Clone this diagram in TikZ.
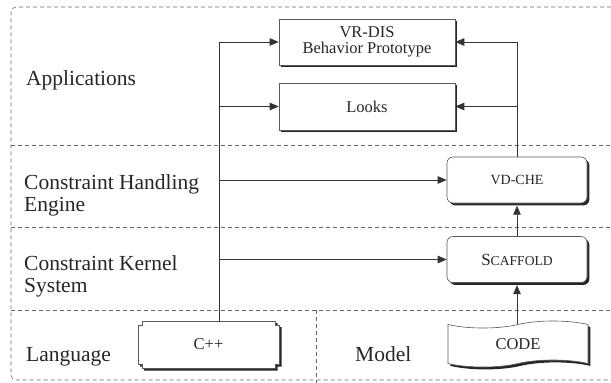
\documentclass[tikz,border=0pt]{standalone}
\usepackage{fontspec}
\setmainfont{Liberation Serif}
\usetikzlibrary{arrows.meta,shadows,shapes.symbols,calc}

% Outline of a box whose four corners carry a small square notch;
% #1 = node name, #2/#3 = extra shift of the whole outline
\newcommand\notchpath[3]{%
  ([xshift=#2+4pt,yshift=#3]#1.north west) --
  ([xshift=#2-4pt,yshift=#3]#1.north east) --
  ([xshift=#2-4pt,yshift=#3-4pt]#1.north east) --
  ([xshift=#2,yshift=#3-4pt]#1.north east) --
  ([xshift=#2,yshift=#3+4pt]#1.south east) --
  ([xshift=#2-4pt,yshift=#3+4pt]#1.south east) --
  ([xshift=#2-4pt,yshift=#3]#1.south east) --
  ([xshift=#2+4pt,yshift=#3]#1.south west) --
  ([xshift=#2+4pt,yshift=#3+4pt]#1.south west) --
  ([xshift=#2,yshift=#3+4pt]#1.south west) --
  ([xshift=#2,yshift=#3-4pt]#1.north west) --
  ([xshift=#2+4pt,yshift=#3-4pt]#1.north west) -- cycle}

\tikzset{
  layerline/.style={draw=black!60, line width=0.6pt, dash pattern=on 4pt off 3pt},
  lbl/.style={anchor=west, align=left, text=black!85,
              font=\fontsize{21.5}{22}\selectfont, inner sep=0pt},
  boxshadow/.style={drop shadow={shadow xshift=2.4pt, shadow yshift=-2.4pt,
              fill=black!85, opacity=1}},
  appbox/.style={draw=black!65, line width=0.6pt, fill=white, boxshadow,
              minimum width=176pt, text=black!85, align=center,
              font=\fontsize{16.5}{18}\selectfont},
  corebox/.style={draw=black!65, line width=0.6pt, fill=white, boxshadow,
              rounded corners=6pt, minimum width=140pt, minimum height=46pt,
              text=black!85},
  conn/.style={draw=black!80, line width=0.7pt},
  arr/.style={conn, -{Triangle[length=9pt,width=7.5pt]}},
}

\begin{document}
\begin{tikzpicture}[x=1pt,y=-1pt]
\useasboundingbox (0,0) rectangle (611,383);

% layer frame and separators
\draw[layerline, rounded corners=5pt] (611,7) -- (11,7) -- (11,380) -- (611,380);
\draw[layerline] (11,145) -- (611,145);
\draw[layerline] (11,227) -- (611,227);
\draw[layerline] (11,310) -- (611,310);
\draw[layerline] (316,310) -- (316,383);

% layer names
\node[lbl] (lapp) at (26,80) {Applications};
\node[lbl] (lche) at (24,195) {Constraint Handling\\Engine};
\node[lbl] (lcks) at (24,276) {Constraint Kernel\\System};
\node[lbl] (llang) at (26,357) {Language};
\node[lbl] (lmodel) at (355,354) {Model};

% application boxes
\node[appbox, minimum height=46pt] (vr) at (367,42) {VR-DIS\\[-2pt]Behavior Prototype};
\node[appbox, minimum height=47pt] (looks) at (367,106.5) {Looks};

% constraint engine and kernel
\node[corebox, font=\fontsize{14}{16}\selectfont] (che) at (517,180) {VD-CHE};
\node[corebox] (scaf) at (517,259.5)
  {{\fontsize{17}{18}\selectfont S}{\fontsize{13.6}{16}\selectfont CAFFOLD}};

% language box with notched corners
\node[minimum width=141pt, minimum height=47pt, inner sep=0pt] (cpp) at (208.5,344.5) {};
\fill[black!85] \notchpath{cpp}{2.4pt}{-2.4pt};
\draw[draw=black!65, line width=0.6pt, fill=white] \notchpath{cpp}{0pt}{0pt};
\node[text=black!85, font=\fontsize{16.5}{18}\selectfont] (cpptext) at (cpp.center) {C++};

% model box
\node[tape, tape bend height=7pt, draw=black!65, line width=0.6pt, fill=white, boxshadow,
      minimum width=140pt, minimum height=46pt, text=black!85,
      font=\fontsize{16.5}{18}\selectfont] (code) at (518,344) {CODE};

% connectors from the language trunk
\coordinate (trunk) at (219,42);
\draw[arr] (cpp.north -| trunk) |- (vr.west);
\draw[arr] (trunk |- looks.west) -- (looks.west);
\draw[arr] (trunk |- che.west) -- (che.west);
\draw[arr] (trunk |- scaf.west) -- (scaf.west);

% connectors up the right side
\draw[arr] (che.north) |- (vr.east);
\draw[arr] (che.north |- looks.east) -- (looks.east);
\draw[arr] (scaf.north) -- ($(che.south)+(0,2.4)$);
\draw[arr] (code.north -| scaf.north) -- ($(scaf.south)+(0,2.4)$);
\end{tikzpicture}
\end{document}
